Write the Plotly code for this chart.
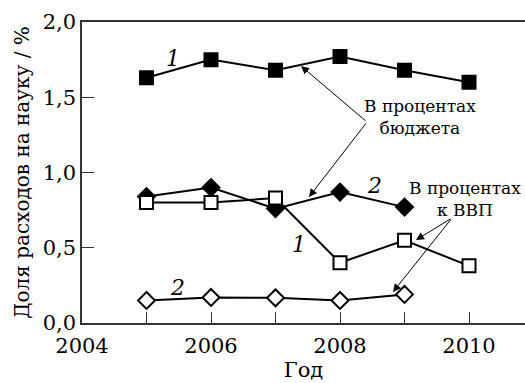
import plotly.graph_objects as go

years_a = [2005, 2006, 2007, 2008, 2009, 2010]
years_b = [2005, 2006, 2007, 2008, 2009]
budget_1 = [1.63, 1.75, 1.68, 1.77, 1.68, 1.60]
budget_2 = [0.84, 0.90, 0.76, 0.87, 0.77]
gdp_1 = [0.80, 0.80, 0.83, 0.40, 0.55, 0.38]
gdp_2 = [0.15, 0.17, 0.167, 0.15, 0.19]

x_tickvals = [2004, 2005, 2006, 2007, 2008, 2009, 2010]
x_ticktext = ["2004", "", "2006", "", "2008", "", "2010"]
y_tickvals = [0.0, 0.5, 1.0, 1.5, 2.0]
y_ticktext = ["0,0", "0,5", "1,0", "1,5", "2,0"]

FONT = "DejaVu Serif"
fig = go.Figure()

def add(x, y, symbol, fill):
    fig.add_trace(go.Scatter(
        x=x, y=y, mode="lines+markers",
        line=dict(color="black", width=2),
        marker=dict(symbol=symbol, size=13,
                    color=fill, line=dict(color="black", width=2)),
        showlegend=False, cliponaxis=False))

add(years_a, budget_1, "square", "black")
add(years_b, budget_2, "diamond", "black")
add(years_a, gdp_1, "square", "white")
add(years_b, gdp_2, "diamond", "white")

X0, PX = 82, 64.5
Y0, PY = 323, 150.5
def dx(px):
    return 2004 + (px - X0) / PX
def dy(py):
    return (Y0 - py) / PY

anns = []
for tail, head in [((367, 122), (301, 66)), ((367, 122), (309, 197)),
                   ((452, 218), (416, 240)), ((452, 218), (393, 292))]:
    anns.append(dict(x=dx(head[0]), y=dy(head[1]), ax=dx(tail[0]), ay=dy(tail[1]),
                     xref="x", yref="y", axref="x", ayref="y", text="",
                     showarrow=True, arrowhead=2, arrowsize=1.6, arrowwidth=1,
                     arrowcolor="black"))
anns.append(dict(x=dx(420), y=dy(117), xref="x", yref="y", text="В процентах<br>бюджета",
                 showarrow=False, font=dict(family=FONT, size=17, color="black"),
                 align="center"))
anns.append(dict(x=dx(465), y=dy(199), xref="x", yref="y", text="В процентах<br>к ВВП",
                 showarrow=False, font=dict(family=FONT, size=17, color="black"),
                 align="center"))
for px, py, t in [(173, 58, "1"), (374, 185, "2"), (299, 244, "1"), (177, 287, "2")]:
    anns.append(dict(x=dx(px), y=dy(py), xref="x", yref="y", text="<i>%s</i>" % t,
                     showarrow=False, font=dict(family=FONT, size=22, color="black")))

fig.update_layout(
    width=525, height=383,
    margin=dict(l=82, r=0, t=22, b=60),
    paper_bgcolor="white", plot_bgcolor="white",
    font=dict(family=FONT, size=22, color="black"),
    annotations=anns,
    xaxis=dict(range=[2004, dx(525)], tickvals=x_tickvals, ticktext=x_ticktext,
               ticks="inside", ticklen=11, tickwidth=1.2, tickcolor="#333",
               showline=True, linecolor="#333", linewidth=1.5, mirror=True,
               showgrid=False, zeroline=False, ticklabelstandoff=3,
               title=dict(text="Год", standoff=0, font=dict(family=FONT, size=21)),
               tickfont=dict(family=FONT, size=21)),
    yaxis=dict(range=[0, 2.0], tickvals=y_tickvals, ticktext=y_ticktext,
               ticks="inside", ticklen=12, tickwidth=1.2, tickcolor="#333",
               showline=True, linecolor="#333", linewidth=1.5,
               showgrid=False, zeroline=False,
               title=dict(text="Доля расходов на науку / %", standoff=8,
                          font=dict(family=FONT, size=20)),
               tickfont=dict(family=FONT, size=21)),
)

fig.write_html("out.html")
